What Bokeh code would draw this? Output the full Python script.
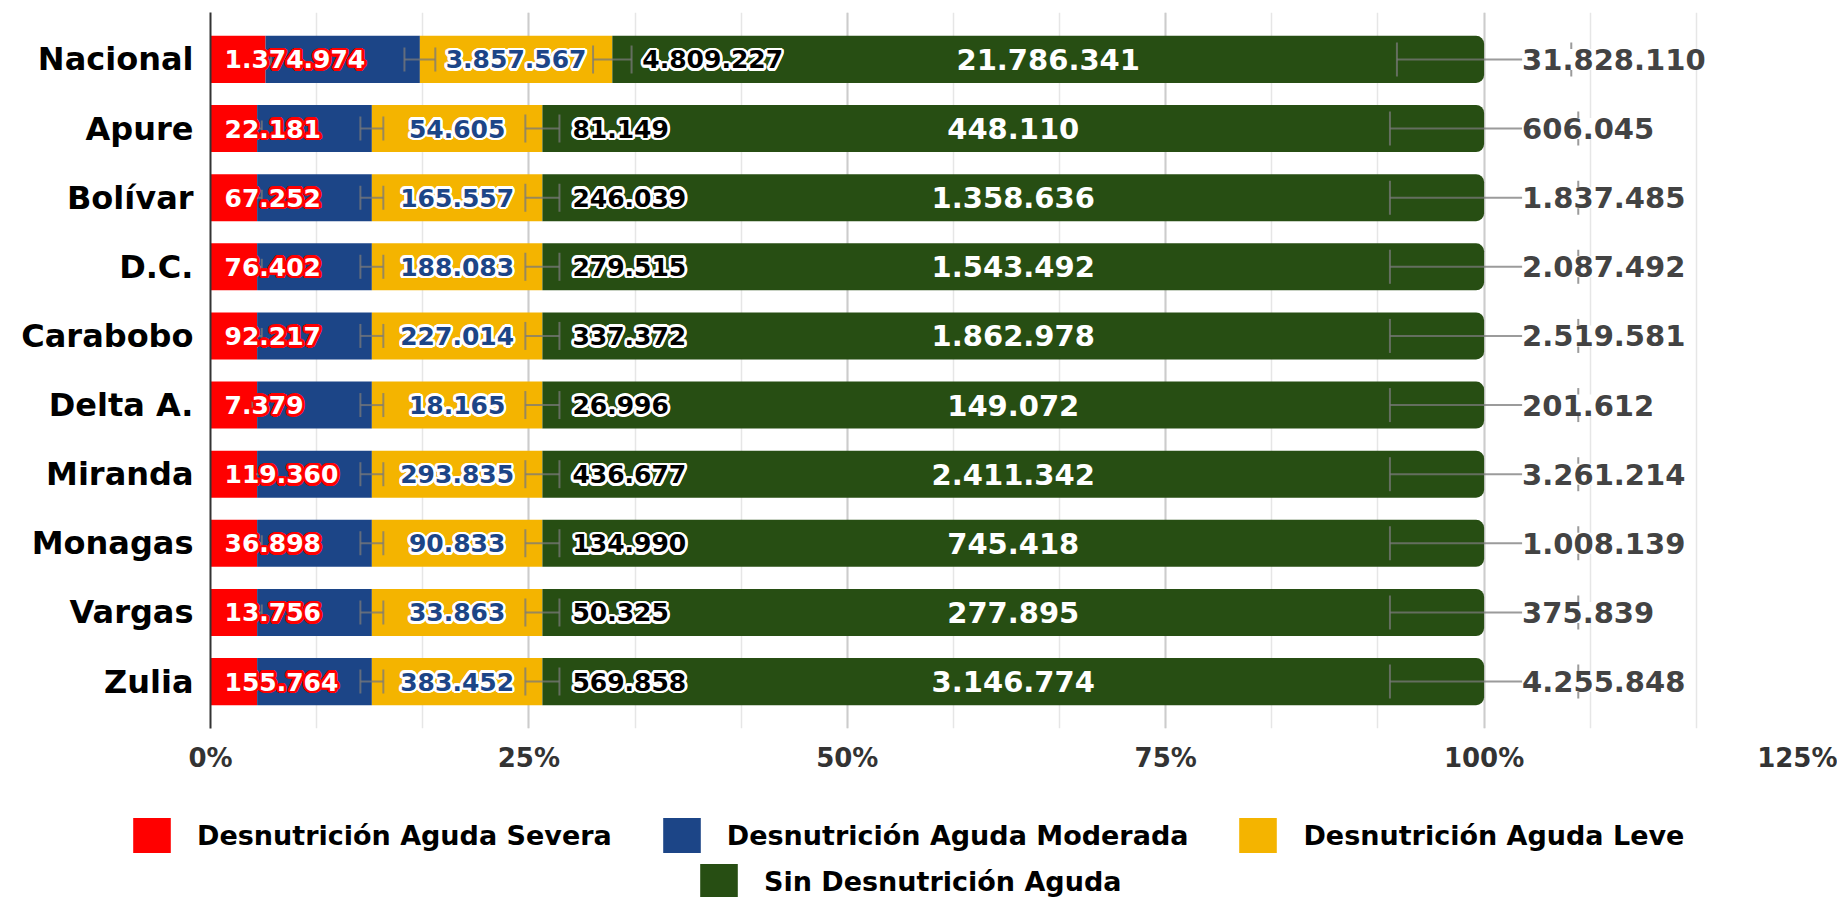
import numpy as np
from bokeh.plotting import figure
from bokeh.layouts import column
from bokeh.models import (ColumnDataSource, FixedTicker, FactorRange, Range1d, Legend,
                          LegendItem, NumeralTickFormatter)
from bokeh.core.properties import value
from bokeh.embed import file_html
from bokeh.resources import INLINE

# ---------------- data ----------------
categories = ["Nacional", "Apure", "Bolívar", "D.C.", "Carabobo", "Delta A.",
              "Miranda", "Monagas", "Vargas", "Zulia"]
severa = [1374974, 22181, 67252, 76402, 92217, 7379, 119360, 36898, 13756, 155764]
moderada = [3857567, 54605, 165557, 188083, 227014, 18165, 293835, 90833, 33863, 383452]
leve = [4809227, 81149, 246039, 279515, 337372, 26996, 436677, 134990, 50325, 569858]
sin_desn = [21786341, 448110, 1358636, 1543492, 1862978, 149072, 2411342, 745418, 277895, 3146774]
totales = [31828110, 606045, 1837485, 2087492, 2519581, 201612, 3261214, 1008139, 375839, 4255848]

series_names = ["Desnutrición Aguda Severa", "Desnutrición Aguda Moderada",
                "Desnutrición Aguda Leve", "Sin Desnutrición Aguda"]
series_values = [severa, moderada, leve, sin_desn]
series_colors = ["#ff0000", "#1c4587", "#f4b400", "#274e13"]
error_fraction = 0.10          # error bars: +/- 10 % of each segment
x_ticks = [0, 0.25, 0.5, 0.75, 1.0, 1.25]
x_minor_ticks = [i / 12 for i in range(16)]

FONT = value("DejaVu Sans")


def fmt(v):
    return f"{v:,}".replace(",", ".")


tot = np.array(totales, dtype=float)
shares = [np.array(v, dtype=float) / tot for v in series_values]
ends = np.cumsum(shares, axis=0)
starts = ends - np.array(shares)

W = 1837
H_MAIN = 775
H_LEG = 122

p = figure(
    y_range=FactorRange(factors=list(reversed(categories)), range_padding=0.178,
                        range_padding_units="absolute"),
    x_range=Range1d(0, 1.25),
    width=W, height=H_MAIN,
    output_backend="svg", toolbar_location=None,
    min_border_left=210, min_border_right=35, min_border_top=12, min_border_bottom=45,
    background_fill_color="white", border_fill_color="white",
)
p.outline_line_color = None
p.frame_align = False

# ---------------- bars ----------------
for i, (name, col) in enumerate(zip(series_names, series_colors)):
    src = ColumnDataSource(dict(y=categories, left=starts[i], right=ends[i]))
    kw = {}
    if i == 3:
        kw["border_radius"] = (0, 8, 8, 0)
    p.hbar(y="y", left="left", right="right", height=0.68, source=src,
           fill_color=col, line_color=None, **kw)

# ---------------- error bars ----------------
cap_sizes = [16, 24, 28, 34]
for i in range(4):
    err = shares[i] * error_fraction
    lo = ends[i] - err
    hi = ends[i] + err
    p.segment(x0=lo, x1=hi, y0=categories, y1=categories,
              line_color="#7a7a7a", line_alpha=0.75, line_width=2)
    p.scatter(x=np.r_[lo, hi], y=categories + categories, marker="dash",
              angle=np.pi / 2, size=cap_sizes[i],
              line_color="#7a7a7a", line_alpha=0.75, line_width=2)

# ---------------- labels ----------------
lab_sev = [fmt(v) for v in severa]
lab_mod = [fmt(v) for v in moderada]
lab_lev = [fmt(v) for v in leve]
lab_sin = [fmt(v) for v in sin_desn]
lab_tot = [fmt(v) for v in totales]

common = dict(text_baseline="middle", text_font=FONT, text_font_style="bold")
HALO_R = 2.6
halo_dirs = [(np.cos(2 * np.pi * k / 16), np.sin(2 * np.pi * k / 16)) for k in range(16)]


def halo_text(x, texts, color, halo_color, size, align, x_off=0):
    for dx, dy in halo_dirs:
        p.text(x=x, y=categories, text=texts, text_align=align,
               x_offset=x_off + HALO_R * dx, y_offset=HALO_R * dy,
               text_font_size=size, text_color=halo_color, **common)
    p.text(x=x, y=categories, text=texts, text_align=align, x_offset=x_off,
           text_font_size=size, text_color=color, **common)


halo_text(np.zeros(len(categories)), lab_sev, "white", "#ff0000", "25px", "left", 14)
halo_text((starts[2] + ends[2]) / 2, lab_mod, "#1c4587", "white", "25px", "center")
halo_text(ends[2], lab_lev, "black", "white", "25px", "left", 30)

p.text(x=(starts[3] + ends[3]) / 2, y=categories, text=lab_sin, text_align="center",
       text_font_size="29px", text_color="white", **common)
p.text(x=ends[3], y=categories, text=lab_tot, text_align="left", x_offset=38,
       text_font_size="29px", text_color="#434343",
       background_fill_color="white", **common)

# ---------------- axes / grid ----------------
p.xaxis.ticker = FixedTicker(ticks=x_ticks, minor_ticks=x_minor_ticks)
p.xaxis.formatter = NumeralTickFormatter(format="0%")
p.xaxis.axis_line_color = None
p.xaxis.major_tick_line_color = None
p.xaxis.minor_tick_line_color = None
p.xaxis.major_tick_out = 0
p.xaxis.minor_tick_out = 0
p.xaxis.major_label_standoff = 14
p.xaxis.major_label_text_font = "DejaVu Sans"
p.xaxis.major_label_text_font_style = "bold"
p.xaxis.major_label_text_font_size = "26px"
p.xaxis.major_label_text_color = "#333333"

p.yaxis.major_tick_line_color = None
p.yaxis.minor_tick_line_color = None
p.yaxis.major_tick_out = 0
p.yaxis.minor_tick_out = 0
p.yaxis.axis_line_color = "#333333"
p.yaxis.axis_line_width = 2
p.yaxis.major_label_standoff = 17
p.yaxis.major_label_text_font = "DejaVu Sans"
p.yaxis.major_label_text_font_style = "bold"
p.yaxis.major_label_text_font_size = "32px"
p.yaxis.major_label_text_color = "black"

p.ygrid.grid_line_color = None
p.xgrid.grid_line_color = "#cccccc"
p.xgrid.grid_line_width = 2
p.xgrid.minor_grid_line_color = "#e6e6e6"
p.xgrid.minor_grid_line_width = 1.5

# ---------------- legend (own strip below the chart) ----------------
pl = figure(width=W, height=H_LEG, x_range=Range1d(0, 1), y_range=Range1d(0, 1),
            x_axis_location=None, y_axis_location=None,
            output_backend="svg", toolbar_location=None,
            min_border=0, min_border_left=0, min_border_right=0,
            min_border_top=0, min_border_bottom=0,
            background_fill_color="white", border_fill_color="white")
pl.outline_line_color = None
pl.frame_align = False
pl.grid.visible = False
leg_renderers = []
for col in series_colors:
    leg_renderers.append(pl.hbar(y=[-5], left=[0], right=[1], height=0.5,
                                 fill_color=col, line_color=None))

leg_style = dict(orientation="horizontal", glyph_width=47, glyph_height=44,
                 label_standoff=22, spacing=46, padding=0, margin=0,
                 border_line_color=None, background_fill_alpha=0,
                 label_text_font="DejaVu Sans", label_text_font_style="bold",
                 label_text_font_size="27px", label_text_color="black",
                 label_height=44)
leg1 = Legend(items=[LegendItem(label=series_names[i], renderers=[leg_renderers[i]])
                     for i in range(3)], location=(128, 40), **leg_style)
leg2 = Legend(items=[LegendItem(label=series_names[3], renderers=[leg_renderers[3]])],
              location=(695, -6), **leg_style)
pl.add_layout(leg1, "center")
pl.add_layout(leg2, "center")

layout = column(p, pl, spacing=0)
open("out.html", "w").write(file_html(layout, INLINE))
